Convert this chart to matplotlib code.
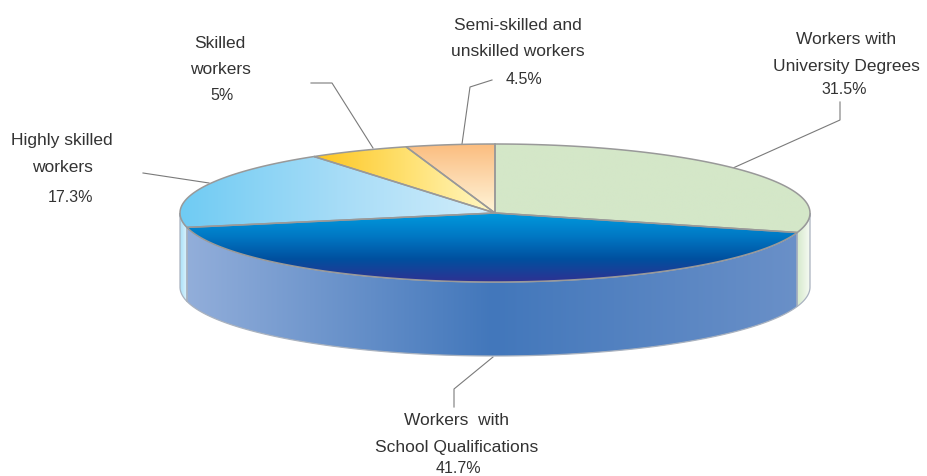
#!/usr/bin/env python3
# -*- coding: utf-8 -*-
import numpy as np
import matplotlib
matplotlib.use('Agg')
import matplotlib.pyplot as plt
from matplotlib.colors import LinearSegmentedColormap
from matplotlib.path import Path
from matplotlib.patches import PathPatch

# clockwise from 12 o'clock
shares = [31.5, 41.7, 17.3, 5.0, 4.5]
names = ['Workers with\nUniversity Degrees',
         'Workers  with\nSchool Qualifications',
         'Highly skilled\nworkers',
         'Skilled\nworkers',
         'Semi-skilled and\nunskilled workers']
pct_labels = ['31.5%', '41.7%', '17.3%', '5%', '4.5%']

top_dirs = ['x', 'y', 'x', 'x', 'y']
top_stops = [
    ['#d4e7c8', '#d4e7c8'],
    ['#0099dd', '#0078c4', '#00509f', '#2e3192'],
    ['#6fcbf3', '#a6dcf7', '#d2edfb'],
    ['#fdc520', '#ffe06e', '#fff8c8'],
    ['#fbbd7f', '#fdd9ae', '#fff5d8'],
]
side_stops = [
    ['#d5e8ca', '#f6fbf3'],
    ['#92aeda', '#4277bb', '#6a90c8'],
    ['#a8e0f8', '#dcf3fd'],
    ['#fdc520', '#fff8c8'],
    ['#fbbd7f', '#fff5d8'],
]

# pixel geometry of the disc
cx, cy = 495, 214
rx, ry = 315, 69
depth = 74
warp = 10  # front of the pie is stretched by the 3D view
edge = '#999999'
wall_edge = '#a9b2bf'
line_col = '#7a7a7a'
text_col = '#333333'


def view_angle(t):
    return t - warp * (1 - np.cos(np.radians(t))) / 2


def rim(t0, t1, dy=0):
    t = np.radians(np.linspace(t0, t1, max(int(abs(t1 - t0) * 2), 2)))
    return np.column_stack((cx + rx * np.sin(t), cy + dy - ry * np.cos(t)))


def fill_gradient(ax, verts, stops, direction, zorder, outline=edge, lw=1.1):
    path = Path(np.vstack((verts, verts[:1])), closed=True)
    x0, y0 = verts.min(axis=0)
    x1, y1 = verts.max(axis=0)
    cmap = LinearSegmentedColormap.from_list('g', stops)
    ramp = np.linspace(0, 1, 256)
    img = ramp.reshape(1, -1) if direction == 'x' else ramp.reshape(-1, 1)
    im = ax.imshow(img, cmap=cmap, extent=(x0, x1, y1, y0), aspect='auto',
                   interpolation='bilinear', zorder=zorder)
    patch = PathPatch(path, facecolor='none', edgecolor=outline, linewidth=lw, zorder=zorder + 0.1)
    ax.add_patch(patch)
    im.set_clip_path(patch)


fig = plt.figure(figsize=(9.28, 4.77), dpi=100)
ax = fig.add_axes([0, 0, 1, 1])

bounds = np.concatenate(([0], np.cumsum(shares))) * 3.6
for i in range(len(shares)):
    t0, t1 = view_angle(bounds[i]), view_angle(bounds[i + 1])
    # only the part of the rim facing us gets a side wall
    s0, s1 = max(t0, 90), min(t1, 270)
    if s1 > s0:
        wall = np.vstack((rim(s0, s1), rim(s1, s0, depth)))
        fill_gradient(ax, wall, side_stops[i], 'x', 2, outline=wall_edge, lw=0.9)
    top = np.vstack(([[cx, cy]], rim(t0, t1)))
    fill_gradient(ax, top, top_stops[i], top_dirs[i], 3)

ax.set_xlim(0, 928)
ax.set_ylim(477, 0)
ax.axis('off')

# leader lines
leaders = [
    ([840, 840, 733], [103, 121, 169]),
    ([493, 454, 454], [358, 390, 408]),
    ([143, 209], [174, 184]),
    ([311, 332, 373], [84, 84, 149]),
    ([492, 470, 462], [81, 88, 145]),
]
for lx, ly in leaders:
    ax.plot(lx, ly, color=line_col, linewidth=0.8, zorder=1)

# labels: x, first line y, percent x, percent y
label_pos = [(846, 39, 844, 89), (457, 421, 458, 469), (62, 141, 71, 198),
             (220, 43, 222, 96), (518, 25, 524, 79)]
for i, (lx, ly, px, py) in enumerate(label_pos):
    for k, part in enumerate(names[i].split('\n')):
        ax.text(lx, ly + k * 27, part, ha='center', va='center', fontsize=12.5,
                family='Liberation Sans', color=text_col)
    ax.text(px, py, pct_labels[i], ha='center', va='center', fontsize=11.5,
            family='Liberation Sans', color=text_col)

plt.savefig('out.png', dpi=100)
